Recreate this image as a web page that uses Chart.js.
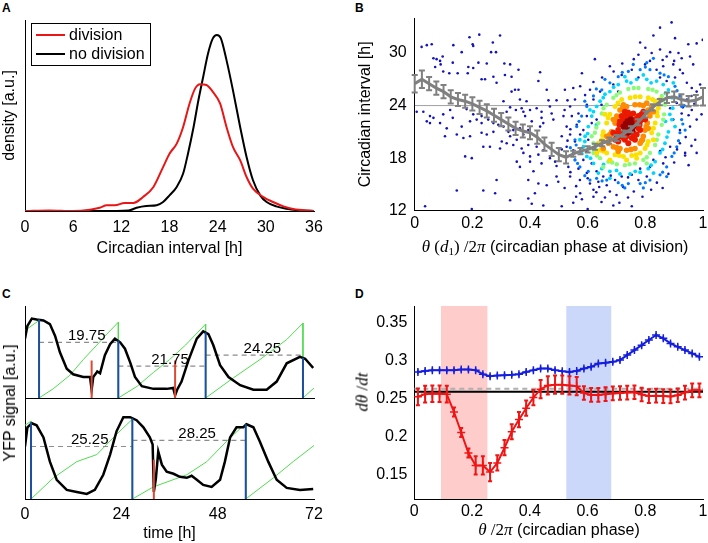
<!DOCTYPE html>
<html>
<head>
<meta charset="utf-8">
<script src="https://cdn.jsdelivr.net/npm/chart.js@4.4.1/dist/chart.umd.min.js"></script>
<style>
  body { margin: 0; background: #fff; width: 708px; height: 543px; position: relative; overflow: hidden;
         font-family: "Liberation Sans", Arial, Helvetica, sans-serif; }
  canvas { position: absolute; }
  .txt { position: absolute; font-size: 16px; line-height: 1; white-space: nowrap; color: #000;
         transform: translate(-50%, -50%); }
  .rot { transform: translate(-50%, -50%) rotate(-90deg); }
  .m { font-family: "Liberation Serif", "DejaVu Serif", serif; font-size: 17px; }
  .m sub { font-size: 11px; vertical-align: -3px; font-style: normal; }
  .tag { position: absolute; font-weight: bold; font-size: 12px; line-height: 1; }
</style>
</head>
<body>
<div class="tag" style="left:2px;top:2px">A</div>
<div class="tag" style="left:355px;top:2px">B</div>
<div class="tag" style="left:2px;top:288px">C</div>
<div class="tag" style="left:355px;top:288px">D</div>

<canvas id="chartA" style="left:0;top:0" width="354" height="270"></canvas>
<canvas id="chartB" style="left:354px;top:0" width="354" height="270"></canvas>
<canvas id="chartCtop" style="left:0;top:290px" width="354" height="112"></canvas>
<canvas id="chartCbot" style="left:0;top:390px" width="354" height="153"></canvas>
<canvas id="chartD" style="left:354px;top:290px" width="354" height="253"></canvas>

<div class="txt" style="left:555px;top:247px"><span class="m"><i>θ</i> (<i>d</i><sub>1</sub>) /2<i>π</i></span> (circadian phase at division)</div>
<div class="txt rot" style="left:10px;top:403px">YFP signal [a.u.]</div>
<div class="txt" style="left:559px;top:529px"><span class="m"><i>θ</i> /2<i>π</i></span> (circadian phase)</div>
<div class="txt rot" style="left:362px;top:392px"><span class="m"><i>dθ</i> /<i>dt</i></span></div>

<script>
// ---------- A: interval densities ----------
const divTime = [0, 3, 6, 8.1, 9.3, 10.2, 11.2, 12.4, 13.5, 14.7, 16.0, 17.2, 18.0, 18.9, 19.7, 20.5, 21.2, 21.8, 22.6, 23.4, 24.3, 25.1, 25.9, 26.8, 27.6, 28.4, 29.7, 30.9, 32.2, 33.4, 36];
const divDensity = [0, 0.003, 0, 0.007, 0.017, 0.03, 0.03, 0.042, 0.042, 0.073, 0.126, 0.23, 0.30, 0.353, 0.44, 0.563, 0.642, 0.664, 0.66, 0.624, 0.563, 0.44, 0.336, 0.266, 0.178, 0.117, 0.073, 0.047, 0.024, 0.01, 0];
const noDivTime = [0, 9.3, 12.9, 13.9, 15.1, 16.4, 17.2, 18.0, 18.9, 19.7, 20.3, 21.0, 21.6, 22.2, 22.8, 23.4, 23.9, 24.4, 25.1, 25.9, 26.8, 27.6, 28.4, 29.3, 30.1, 31.3, 32.6, 34.2, 36];
const noDivDensity = [0, 0, 0.003, 0.017, 0.026, 0.03, 0.047, 0.082, 0.126, 0.196, 0.30, 0.44, 0.58, 0.703, 0.825, 0.904, 0.921, 0.904, 0.79, 0.633, 0.44, 0.283, 0.161, 0.082, 0.047, 0.024, 0.012, 0.003, 0];
const ticksA = [0, 6, 12, 18, 24, 30, 36];

// ---------- B: interval vs phase at division ----------
const phaseB = [0, 0.025, 0.05, 0.075, 0.1, 0.125, 0.15, 0.175, 0.2, 0.225, 0.25, 0.275, 0.3, 0.325, 0.35, 0.375, 0.4, 0.425, 0.45, 0.475, 0.5, 0.525, 0.55, 0.575, 0.6, 0.625, 0.65, 0.675, 0.7, 0.725, 0.75, 0.775, 0.8, 0.825, 0.85, 0.875, 0.9, 0.925, 0.95, 0.975, 1];
const meanB = [26.5, 27.0, 26.5, 26.0, 25.6, 25.0, 24.7, 24.5, 24.2, 23.8, 23.4, 22.9, 22.4, 21.9, 21.4, 21.1, 20.9, 20.4, 19.6, 19.0, 18.4, 18.1, 18.5, 18.8, 19.0, 19.3, 19.7, 20.0, 20.3, 20.8, 21.3, 22.1, 23.0, 23.8, 24.4, 24.9, 25.0, 24.7, 24.5, 24.6, 25.0];
const errB = [1.0, 1.0, 0.75, 0.75, 0.75, 0.75, 0.75, 0.75, 0.75, 0.75, 0.75, 0.75, 0.75, 0.75, 0.75, 0.75, 0.75, 0.75, 0.75, 0.75, 0.75, 0.7, 0.35, 0.35, 0.35, 0.35, 0.35, 0.35, 0.35, 0.35, 0.35, 0.35, 0.35, 0.35, 0.35, 0.6, 0.6, 0.6, 0.6, 0.6, 1.0];
const refIntervalB = 24;
const ticksBx = [0, 0.2, 0.4, 0.6, 0.8, 1];
const ticksBy = [12, 18, 24, 30];

// scatter, grouped by local point density (outer to inner)
const cellsSparse = [
  [0.024,30.7],[0.042,30.9],[0.059,31.0],[0.134,30.9],[0.19,31.8],[0.224,32.1],[0.296,32.0],[0.271,31.2],[0.201,31.0],[0.203,30.8],[0.163,30.1],[0.265,30.1],[0.282,30.1],[0.065,29.4],[0.076,29.3],[0.088,29.1],[0.097,29.6],[0.071,28.4],[0.09,28.7],[0.132,28.9],[0.221,28.9],[0.186,28.4],[0.203,28.3],[0.25,28.8],[0.311,28.8],[0.331,28.7],[0.36,28.1],[0.435,27.8],[0.099,27.9],[0.12,27.7],[0.149,27.7],[0.184,27.7],[0.232,27.0],[0.244,27.0],[0.273,27.3],[0.284,26.6],[0.313,27.5],[0.336,27.3],[0.429,26.8],[0.458,25.8],[0.336,25.6],[0.348,25.8],[0.36,25.8],[0.365,24.7],[0.388,24.5],[0.464,24.6],[0.492,24.6],[0.308,24.5],[0.331,23.8],[0.351,23.5],[0.371,23.7],[0.007,23.3],[0.03,23.3],[0.053,22.8],[0.065,22.6],[0.099,23.0],[0.123,23.5],[0.132,22.6],[0.18,23.6],[0.203,23.0],[0.232,22.8],[0.319,23.3],[0.377,23.3],[0.383,22.8],[0.4,23.5],[0.423,23.7],[0.44,23.3],[0.469,23.9],[0.475,23.1],[0.44,22.6],[0.446,22.0],[0.435,21.6],[0.481,22.4],[0.042,22.2],[0.053,22.0],[0.088,22.0],[0.111,21.4],[0.163,21.6],[0.192,22.2],[0.215,22.4],[0.232,22.0],[0.255,22.4],[0.273,22.0],[0.29,21.8],[0.308,21.6],[0.325,21.0],[0.342,21.2],[0.365,21.4],[0.394,21.2],[0.406,22.2],[0.105,20.5],[0.146,20.7],[0.169,20.3],[0.192,20.5],[0.232,20.9],[0.25,20.7],[0.273,21.0],[0.331,20.5],[0.354,20.1],[0.377,20.7],[0.302,19.9],[0.319,19.7],[0.342,19.5],[0.371,19.1],[0.394,19.5],[0.238,19.3],[0.261,19.3],[0.296,19.1],[0.423,19.3],[0.446,18.9],[0.429,18.4],[0.4,18.2],[0.377,18.6],[0.175,18.2],[0.198,18.0],[0.354,17.6],[0.365,17.0],[0.4,17.6],[0.44,17.4],[0.469,18.0],[0.487,17.6],[0.492,17.1],[0.412,16.5],[0.394,15.5],[0.429,15.1],[0.458,14.9],[0.492,15.9],[0.498,15.3],[0.284,15.5],[0.146,14.3],[0.238,14.3],[0.279,14.0],[0.331,13.2],[0.394,13.4],[0.417,14.0],[0.406,12.8],[0.446,12.6],[0.198,12.2],[0.036,12.5],
  [0.891,33.5],[0.851,32.9],[0.828,32.0],[0.782,31.2],[0.903,31.7],[0.949,31.0],[0.978,31.1],[0.999,31.5],[0.625,29.3],[0.677,28.5],[0.776,29.8],[0.822,30.0],[0.851,30.4],[0.874,29.6],[0.886,30.1],[0.915,30.0],[0.926,29.4],[0.955,29.6],[0.799,28.7],[0.816,29.1],[0.839,28.1],[0.862,28.5],[0.897,28.7],[0.92,28.1],[0.966,28.7],[0.753,28.1],[0.718,27.5],[0.776,27.2],[0.851,27.2],[0.874,26.8],[0.903,27.2],[0.944,26.6],[0.961,26.0],[0.978,25.6],[0.521,25.8],[0.574,26.2],[0.608,25.8],[0.643,25.6],[0.689,26.4],[0.706,25.6],[0.591,25.2],[0.62,24.7],[0.556,24.7],[0.539,23.9],[0.597,24.1],[0.648,24.1],[0.516,22.8],[0.545,22.8],[0.568,23.1],[0.597,22.8],[0.527,21.6],[0.562,21.8],[0.585,21.2],[0.614,22.0],[0.631,22.4],[0.51,20.5],[0.539,20.7],[0.556,19.9],[0.574,20.7],[0.602,20.1],[0.527,19.3],[0.55,18.9],[0.574,19.1],[0.597,18.8],[0.521,18.2],[0.556,17.8],[0.585,17.8],[0.614,17.4],[0.533,17.0],[0.568,16.8],[0.597,16.3],[0.631,16.5],[0.654,15.9],[0.539,15.9],[0.573,15.5],[0.608,15.1],[0.637,15.3],[0.666,14.9],[0.695,15.5],[0.718,15.9],[0.753,16.1],[0.782,16.8],[0.816,17.0],[0.776,15.5],[0.574,14.0],[0.62,14.4],[0.677,14.2],[0.723,14.7],[0.55,12.9],[0.648,13.0],[0.689,12.6],[0.753,12.5],[0.51,12.5],[0.851,18.8],[0.886,19.3],[0.92,19.7],[0.938,18.6],[0.938,18.3],[0.973,20.1],[0.92,21.2],[0.955,21.6],[0.978,22.4],[0.897,22.4],[0.926,23.1],[0.961,23.5],[0.995,23.0],[0.886,23.7],[0.909,24.3],[0.944,24.7],[0.862,17.4],[0.828,17.8],[0.805,15.9],[0.978,18.6],
  [0.56,14.8],[0.58,13.3],[0.6,12.2],[0.62,13.6],[0.64,14.7],[0.66,13.5],[0.7,13.8],[0.71,12.9],[0.74,13.5],[0.76,14.2],[0.79,13.6],[0.82,14.4],[0.84,15.2],[0.86,14.6],[0.88,16.2],[0.9,17.5],[0.95,17.2],[0.96,19.4],[0.94,20.4],[0.95,22.9],[0.97,24.2],[0.99,26.4],[0.93,27.7],[0.9,29.1],[0.86,29.2],[0.8,30.6],[0.76,29.3],[0.72,28.8],[0.69,27.9],[0.65,27.2],[0.62,26.7],[0.58,27.7],[0.55,26.0],[0.53,24.6],[0.52,23.5],[0.54,21.3],[0.53,20.0],[0.51,19.0],[0.54,16.4],[0.52,14.6],[0.56,13.6],[0.6,15.7],[0.63,14.1],[0.68,16.0],[0.74,15.8],[0.83,16.3],[0.87,18.1],[0.91,19.0],[0.93,23.8],[0.96,25.1]
];
const cellsLightBlue = [[0.55,18.6],[0.556,20.1],[0.562,21.6],[0.579,22.8],[0.597,23.9],[0.62,25.1],[0.649,25.8],[0.677,26.6],[0.706,27.3],[0.741,27.9],[0.782,28.1],[0.816,28.1],[0.851,27.7],[0.88,27.3],[0.903,26.2],[0.92,25.1],[0.926,23.9],[0.926,22.4],[0.92,20.9],[0.909,19.3],[0.892,18.2],[0.874,17.0],[0.851,16.1],[0.816,15.5],[0.782,15.1],[0.741,15.1],[0.706,15.2],[0.666,15.5],[0.631,15.7],[0.602,16.5],[0.573,17.0],[0.556,17.8],[0.805,28.9],[0.758,28.7],[0.828,29.4],[0.938,21.2],[0.608,15.5],[0.729,14.6],[0.793,14.6],[0.874,15.9],
  [0.56,19.5],[0.57,22.2],[0.59,24.5],[0.63,25.9],[0.66,27.0],[0.72,27.8],[0.8,28.4],[0.865,27.5],[0.91,25.7],[0.935,24.0],[0.93,21.9],[0.915,20.0],[0.9,18.6],[0.86,16.4],[0.8,15.2],[0.72,14.9],[0.65,15.4],[0.59,16.0],[0.565,17.4],[0.54,19.2]];
const cellsCyan = [[0.585,19.3],[0.591,20.5],[0.602,21.6],[0.614,22.8],[0.631,23.9],[0.654,24.9],[0.677,25.6],[0.706,26.4],[0.735,26.8],[0.77,27.0],[0.805,27.0],[0.839,26.8],[0.862,26.4],[0.88,25.8],[0.892,24.9],[0.895,23.7],[0.892,22.4],[0.88,21.0],[0.868,19.7],[0.851,18.6],[0.834,17.6],[0.81,16.8],[0.782,16.4],[0.747,16.2],[0.712,16.2],[0.677,16.5],[0.649,16.8],[0.62,17.4],[0.597,18.2],[0.579,18.6],[0.573,20.1],[0.897,26.6],[0.828,16.3],[0.677,15.7],[0.637,16.3],[0.729,27.3],[0.793,27.5],[0.643,24.5],[0.608,23.5],[0.903,21.6],
  [0.6,20.8],[0.62,23.3],[0.66,25.3],[0.69,26.1],[0.75,26.6],[0.82,26.6],[0.87,25.4],[0.885,23.0],[0.875,20.4],[0.86,19.0],[0.82,17.2],[0.765,16.5],[0.7,16.6],[0.655,17.3],[0.61,18.0],[0.59,19.9],[0.63,21.8],[0.87,22.2]];
const cellsGreen = [[0.62,19.7],[0.625,20.9],[0.637,22.0],[0.649,23.1],[0.666,24.1],[0.689,24.9],[0.712,25.5],[0.741,25.9],[0.776,26.0],[0.81,25.9],[0.839,25.6],[0.857,25.1],[0.868,24.1],[0.865,23.0],[0.857,21.8],[0.845,20.7],[0.834,19.5],[0.816,18.6],[0.793,17.8],[0.764,17.4],[0.729,17.2],[0.701,17.3],[0.672,17.6],[0.643,18.0],[0.62,18.6],[0.608,19.1],[0.874,25.4],[0.654,17.0],[0.805,17.4],[0.614,20.5],
  [0.625,19.1],[0.63,21.5],[0.655,23.7],[0.7,25.2],[0.76,26.0],[0.825,25.8],[0.862,24.6],[0.862,22.4],[0.84,20.1],[0.805,18.1],[0.745,17.3],[0.685,17.5],[0.632,18.3]];
const cellsYellow = [[0.649,20.1],[0.654,21.0],[0.666,22.0],[0.677,23.0],[0.695,23.9],[0.718,24.7],[0.747,24.9],[0.782,25.0],[0.81,24.9],[0.834,24.5],[0.845,23.7],[0.842,22.8],[0.834,22.0],[0.822,20.9],[0.81,19.9],[0.799,19.1],[0.782,18.6],[0.753,18.3],[0.724,18.2],[0.695,18.4],[0.666,18.6],[0.643,18.9],[0.637,19.7],[0.66,23.0],[0.851,24.7],[0.735,17.8],[0.77,18.0],[0.677,17.8],[0.631,18.6],[0.828,20.1],
  [0.652,20.6],[0.671,22.6],[0.705,24.3],[0.765,25.0],[0.825,24.7],[0.84,23.2],[0.828,21.4],[0.806,19.5],[0.768,18.4],[0.71,18.3],[0.655,18.8]];
const cellsOrange = [[0.677,20.1],[0.683,21.0],[0.695,22.0],[0.701,22.8],[0.712,23.5],[0.735,23.9],[0.764,24.1],[0.793,24.0],[0.81,23.5],[0.816,22.8],[0.807,22.0],[0.799,21.2],[0.793,20.5],[0.782,19.7],[0.764,19.1],[0.735,18.9],[0.712,19.1],[0.689,19.3],[0.672,19.7],[0.677,20.7],[0.805,24.3],[0.822,23.8],[0.706,18.8],[0.666,20.5],[0.81,21.4],[0.787,20.0],[0.724,24.1],[0.689,22.4],[0.828,23.3],[0.654,19.1],
  [0.68,20.6],[0.697,22.4],[0.722,23.8],[0.78,24.1],[0.814,23.1],[0.803,21.6],[0.79,20.1],[0.75,19.0],[0.7,19.2],[0.67,19.9]];
const cellsRed = [[0.706,21.2],[0.712,22.2],[0.718,22.8],[0.735,23.0],[0.758,23.1],[0.776,22.8],[0.782,22.2],[0.776,21.4],[0.77,20.7],[0.753,20.3],[0.729,20.1],[0.712,20.5],[0.701,20.7],[0.724,22.4],[0.764,22.4],[0.77,21.8],[0.718,20.9],[0.735,20.5],[0.758,20.9],[0.787,23.0],[0.793,23.3],[0.695,20.1],[0.706,19.9],[0.741,19.7],[0.782,21.2],[0.764,20.1],[0.729,23.3],[0.747,22.8],[0.689,20.9],[0.799,22.4],
  [0.71,21.8],[0.73,22.7],[0.77,22.5],[0.78,21.8],[0.76,20.5],[0.725,20.3],[0.7,20.4],[0.74,23.2]];
const cellsDarkRed = [[0.735,21.8],[0.747,21.4],[0.729,21.2],[0.753,22.0],[0.741,20.9],[0.758,21.6],[0.724,21.6],[0.749,22.4],[0.738,22.2],[0.755,21.2],[0.73,21.9],[0.745,21.5]];

// ---------- C: two example traces ----------
const yfpTopT = [0, 0.6, 1.7, 2.9, 4.6, 6.2, 7.5, 8.7, 10.4, 12.0, 14.5, 16.2, 16.6, 17.0, 17.7, 18.0, 18.7, 19.9, 21.2, 22.4, 23.7, 24.9, 26.2, 27.4, 29.1, 32.0, 35.3, 36.9, 37.4, 37.9, 39.0, 40.7, 42.8, 44.4, 45.7, 46.9, 48.6, 50.7, 53.6, 56.9, 60.2, 62.7, 65.2, 68.5, 69.8, 71.8];
const yfpTopV = [0.65, 0.79, 0.87, 0.86, 0.85, 0.81, 0.68, 0.50, 0.32, 0.26, 0.23, 0.23, 0.09, 0.23, 0.27, 0.29, 0.27, 0.47, 0.59, 0.65, 0.61, 0.54, 0.39, 0.23, 0.13, 0.10, 0.10, 0.11, 0.03, 0.09, 0.18, 0.41, 0.65, 0.73, 0.70, 0.58, 0.36, 0.23, 0.14, 0.09, 0.09, 0.18, 0.38, 0.45, 0.43, 0.33];
const phaseTopT = [0, 3.5, 3.5, 7, 11.2, 14.5, 17.9, 20.4, 23.25, 23.25, 28, 32, 36, 40, 45, 45, 51.9, 58.5, 65.2, 69.25, 69.25, 72];
const phaseTopV = [0.74, 0.85, 0, 0.1, 0.25, 0.42, 0.58, 0.70, 0.83, 0, 0.13, 0.28, 0.42, 0.58, 0.81, 0, 0.22, 0.42, 0.64, 0.82, 0, 0.11];
const peaksTop = [3.5, 23.25, 45, 69.25];
const peaksTopH = [0.86, 0.63, 0.72, 0.44];
const divsTop = [16.6, 37.4];
const divsTopH = [0.41, 0.41];
const levelsTop = [0.61, 0.35, 0.47];
const intervalsTop = ['19.75', '21.75', '24.25'];

const yfpBotT = [0, 0.6, 1.7, 2.9, 4.6, 6.2, 7.9, 10.4, 12.9, 15.4, 17.4, 19.5, 21.2, 22.8, 24.5, 26.2, 27.8, 29.5, 31.1, 31.8, 32.1, 32.6, 33.2, 34.1, 35.3, 37.0, 38.6, 40.3, 41.5, 42.8, 44.4, 46.5, 48.6, 49.8, 51.1, 52.7, 54.4, 55.2, 56.9, 58.5, 60.6, 62.7, 65.2, 68.5, 71.8];
const yfpBotV = [0.52, 0.71, 0.75, 0.73, 0.61, 0.37, 0.19, 0.09, 0.07, 0.05, 0.09, 0.24, 0.44, 0.67, 0.81, 0.81, 0.78, 0.71, 0.61, 0.54, 0.07, 0.20, 0.47, 0.34, 0.27, 0.25, 0.22, 0.21, 0.23, 0.19, 0.14, 0.12, 0.19, 0.37, 0.61, 0.71, 0.71, 0.74, 0.71, 0.57, 0.37, 0.19, 0.11, 0.09, 0.10];
const phaseBotT = [0, 1.5, 1.5, 7.1, 12.9, 17.9, 22.8, 26.75, 26.75, 32, 40.3, 45.3, 50.2, 55, 55, 61.9, 66.8, 72];
const phaseBotV = [0.73, 0.77, 0, 0.21, 0.37, 0.44, 0.64, 0.79, 0, 0.12, 0.24, 0.37, 0.57, 0.75, 0, 0.21, 0.37, 0.53];
const peaksBot = [1.5, 26.75, 55];
const peaksBotH = [0.76, 0.80, 0.74];
const divsBot = [32.1];
const divsBotH = [0.39];
const levelsBot = [0.52, 0.58];
const intervalsBot = ['25.25', '28.25'];
const ticksC = [0, 24, 48, 72];

// ---------- D: phase velocity ----------
const phaseBins = [0.0125, 0.0375, 0.0625, 0.0875, 0.1125, 0.1375, 0.1625, 0.1875, 0.2125, 0.2375, 0.2625, 0.2875, 0.3125, 0.3375, 0.3625, 0.3875, 0.4125, 0.4375, 0.4625, 0.4875, 0.5125, 0.5375, 0.5625, 0.5875, 0.6125, 0.6375, 0.6625, 0.6875, 0.7125, 0.7375, 0.7625, 0.7875, 0.8125, 0.8375, 0.8625, 0.8875, 0.9125, 0.9375, 0.9625, 0.9875];
const velBlue = [0.2848, 0.2861, 0.2871, 0.2871, 0.2871, 0.2871, 0.288, 0.288, 0.2871, 0.2818, 0.2792, 0.2800, 0.2805, 0.2809, 0.2818, 0.2848, 0.2871, 0.2893, 0.2893, 0.2871, 0.2855, 0.2848, 0.2861, 0.2893, 0.2914, 0.2959, 0.2967, 0.298, 0.3003, 0.3069, 0.3135, 0.32, 0.3267, 0.3333, 0.3289, 0.3223, 0.3178, 0.3135, 0.3091, 0.3046];
const velRed = [0.252, 0.2555, 0.256, 0.256, 0.2555, 0.232, 0.205, 0.178, 0.1617, 0.1617, 0.153, 0.165, 0.185, 0.206, 0.222, 0.237, 0.251, 0.262, 0.267, 0.268, 0.268, 0.267, 0.266, 0.257, 0.2545, 0.2545, 0.2555, 0.2565, 0.257, 0.2575, 0.258, 0.255, 0.253, 0.2535, 0.253, 0.2525, 0.254, 0.2575, 0.2605, 0.2605];
const errRed = [0.011, 0.011, 0.011, 0.011, 0.011, 0.006, 0.006, 0.006, 0.012, 0.012, 0.012, 0.01, 0.01, 0.01, 0.01, 0.01, 0.01, 0.012, 0.012, 0.012, 0.012, 0.012, 0.012, 0.009, 0.009, 0.009, 0.009, 0.009, 0.009, 0.009, 0.009, 0.009, 0.009, 0.009, 0.009, 0.009, 0.009, 0.009, 0.009, 0.009];
const errBlue = [0.003, 0.003, 0.003, 0.003, 0.003, 0.003, 0.003, 0.003, 0.003, 0.003, 0.003, 0.003, 0.003, 0.003, 0.003, 0.003, 0.003, 0.003, 0.003, 0.003, 0.003, 0.003, 0.003, 0.003, 0.003, 0.003, 0.003, 0.003, 0.003, 0.003, 0.003, 0.003, 0.003, 0.003, 0.003, 0.003, 0.003, 0.003, 0.003, 0.003];
const velMean = 0.2585;
const velDashed = 0.2625;
const bandPink = [0.092, 0.254];
const bandBlue = [0.526, 0.683];
const ticksDx = [0, 0.2, 0.4, 0.6, 0.8, 1];
const ticksDy = [0.15, 0.2, 0.25, 0.3, 0.35];

// ---------- helpers ----------
Chart.defaults.font.family = '"Liberation Sans", Arial, Helvetica, sans-serif';
Chart.defaults.font.size = 16;
Chart.defaults.color = '#000';

const RED = 'rgb(232,22,22)';
const GRAY = 'rgb(128,128,128)';
const border = { display: true, color: '#000', width: 1 };
const noGrid = { display: false, drawTicks: false };

const pts = (xs, ys) => xs.map((x, i) => ({ x, y: ys[i] }));
const pairs = list => list.map(p => ({ x: p[0], y: p[1] }));
const useTicks = list => s => { s.ticks = list.map(v => ({ value: v })); };
// force the axis thickness so the plot rectangle sits where the reference has it
const fit = size => s => {
  if (s.isHorizontal()) s.height = size; else s.width = size;
  s.paddingLeft = s.paddingRight = s.paddingTop = s.paddingBottom = 0;
};
const base = pad => ({
  responsive: false, animation: false, events: [],
  layout: { autoPadding: false, padding: pad },
  elements: { point: { radius: 0 }, line: { tension: 0 } }
});
const flatTicks = pad => ({ padding: pad, autoSkip: false, maxRotation: 0, minRotation: 0, callback: v => String(v) });

// vertical markers from the axis up to a height, broken with nulls
function vlines(ts, hs) {
  const out = [];
  ts.forEach((t, i) => out.push({ x: t, y: 0 }, { x: t, y: hs[i] }, { x: t, y: null }));
  return out;
}
function spans(ts, levels) {
  const out = [];
  levels.forEach((v, i) => out.push({ x: ts[i], y: v }, { x: ts[i + 1], y: v }, { x: ts[i + 1], y: null }));
  return out;
}
const labelItems = (ts, levels, texts) => texts.map((text, i) => ({ text, x: (ts[i] + ts[i + 1]) / 2 + 2, y: levels[i] }));

const errorBars = {
  id: 'errorBars',
  afterDatasetDraw(chart, args) {
    const ds = chart.data.datasets[args.index];
    if (!ds.errors) return;
    const { ctx, scales: { x, y } } = chart;
    const cap = ds.errCap || 0;
    ctx.save();
    ctx.strokeStyle = ds.errColor || ds.borderColor;
    ctx.lineWidth = ds.errWidth || 1;
    ctx.beginPath();
    ds.data.forEach((p, i) => {
      const px = x.getPixelForValue(p.x);
      const lo = y.getPixelForValue(p.y - ds.errors[i]);
      const hi = y.getPixelForValue(p.y + ds.errors[i]);
      ctx.moveTo(px, lo); ctx.lineTo(px, hi);
      if (cap) {
        ctx.moveTo(px - cap, lo); ctx.lineTo(px + cap, lo);
        ctx.moveTo(px - cap, hi); ctx.lineTo(px + cap, hi);
      }
    });
    ctx.stroke();
    ctx.restore();
  }
};

const boxLegend = {
  id: 'boxLegend',
  afterDraw(chart) {
    const { ctx, chartArea: a } = chart;
    const x0 = a.left + 6, y0 = a.top + 3;
    ctx.save();
    ctx.strokeStyle = '#000';
    ctx.lineWidth = 1;
    ctx.strokeRect(x0 + 0.5, y0 + 0.5, 119, 42);
    ctx.font = '16px "Liberation Sans", Arial, sans-serif';
    ctx.textBaseline = 'middle';
    chart.data.datasets.forEach((ds, i) => {
      const y = y0 + 12 + i * 19;
      ctx.strokeStyle = ds.borderColor;
      ctx.lineWidth = 2;
      ctx.beginPath(); ctx.moveTo(x0 + 5, y); ctx.lineTo(x0 + 34, y); ctx.stroke();
      ctx.fillStyle = '#000';
      ctx.fillText(ds.label, x0 + 38, y + 1);
    });
    ctx.restore();
  }
};

const intervalText = {
  id: 'intervalText',
  afterDatasetsDraw(chart, args, opts) {
    if (!opts.items) return;
    const { ctx, scales: { x, y } } = chart;
    ctx.save();
    ctx.font = '15px "Liberation Sans", Arial, sans-serif';
    ctx.fillStyle = '#000';
    ctx.textAlign = 'center';
    ctx.textBaseline = 'alphabetic';
    opts.items.forEach(it => ctx.fillText(it.text, x.getPixelForValue(it.x), y.getPixelForValue(it.y) - 2));
    ctx.restore();
  }
};

// ---------- A ----------
new Chart(document.getElementById('chartA'), {
  type: 'line',
  data: { datasets: [
    { label: 'division', data: pts(divTime, divDensity), borderColor: RED, borderWidth: 2, cubicInterpolationMode: 'monotone' },
    { label: 'no division', data: pts(noDivTime, noDivDensity), borderColor: '#000', borderWidth: 2, cubicInterpolationMode: 'monotone' }
  ] },
  options: {
    ...base({ top: 20, right: 40, left: 0, bottom: 0 }),
    plugins: { legend: { display: false }, tooltip: { enabled: false } },
    scales: {
      x: { type: 'linear', min: 0, max: 36, afterBuildTicks: useTicks(ticksA), afterFit: fit(59),
           grid: noGrid, border, ticks: flatTicks(7),
           title: { display: true, text: 'Circadian interval [h]', padding: { top: 0, bottom: 12 } } },
      y: { type: 'linear', min: 0, max: 1, afterFit: fit(25), grid: noGrid, border,
           ticks: { display: false },
           title: { display: true, text: 'density [a.u.]', padding: { top: 0, bottom: 0 } } }
    }
  },
  plugins: [boxLegend]
});

// ---------- B ----------
const dots = (list, color, r, order) => ({ data: pairs(list), backgroundColor: color, pointRadius: r, borderWidth: 0, order });
new Chart(document.getElementById('chartB'), {
  type: 'scatter',
  data: { datasets: [
    { data: pts(phaseB, meanB), showLine: true, borderColor: GRAY, borderWidth: 3, pointRadius: 0,
      errors: errB, errCap: 3, errWidth: 2, order: 0 },
    dots(cellsDarkRed, 'rgb(150,0,0)', 3, 1),
    dots(cellsRed, 'rgb(235,25,0)', 3, 2),
    dots(cellsOrange, 'rgb(255,140,0)', 2.8, 3),
    dots(cellsYellow, 'rgb(250,225,0)', 2.5, 4),
    dots(cellsGreen, 'rgb(140,250,120)', 2.2, 5),
    dots(cellsCyan, 'rgb(0,215,250)', 1.9, 6),
    dots(cellsLightBlue, 'rgb(0,120,255)', 1.6, 7),
    dots(cellsSparse, 'rgb(20,20,185)', 1.3, 8),
    { data: pts([0, 1], [refIntervalB, refIntervalB]), showLine: true, borderColor: 'rgb(160,160,160)', borderWidth: 1, pointRadius: 0, order: 9 }
  ] },
  options: {
    ...base({ top: 18, right: 5, left: 0, bottom: 0 }),
    plugins: { legend: { display: false }, tooltip: { enabled: false } },
    scales: {
      x: { type: 'linear', min: 0, max: 1, afterBuildTicks: useTicks(ticksBx), afterFit: fit(59.3),
           grid: noGrid, border, ticks: flatTicks(3) },
      y: { type: 'linear', min: 12, max: 34, afterBuildTicks: useTicks(ticksBy), afterFit: fit(60.7),
           grid: noGrid, border, ticks: flatTicks(8),
           title: { display: true, text: 'Circadian interval [h]', padding: { top: 2, bottom: 0 } } }
    }
  },
  plugins: [errorBars]
});

// ---------- C ----------
function traceSets(yfpT, yfpV, phT, phV, peaks, peaksH, divs, divsH, levels) {
  return [
    { data: vlines(divs, divsH), borderColor: 'rgb(222,72,50)', borderWidth: 2, order: 0 },
    { data: vlines(peaks, peaksH), borderColor: 'rgb(30,78,160)', borderWidth: 2, order: 1 },
    { data: pts(yfpT, yfpV), borderColor: '#000', borderWidth: 2.5, order: 2 },
    { data: spans(peaks, levels), borderColor: 'rgb(140,140,140)', borderWidth: 1.2, borderDash: [5, 4], order: 3 },
    { data: pts(phT, phV), borderColor: 'rgb(80,220,80)', borderWidth: 1, order: 4 }
  ];
}
new Chart(document.getElementById('chartCtop'), {
  type: 'line',
  data: { datasets: traceSets(yfpTopT, yfpTopV, phaseTopT, phaseTopV, peaksTop, peaksTopH, divsTop, divsTopH, levelsTop) },
  options: {
    ...base({ top: 16.7, right: 40, left: 0, bottom: 0 }),
    plugins: { legend: { display: false }, tooltip: { enabled: false },
               intervalText: { items: labelItems(peaksTop, levelsTop, intervalsTop) } },
    scales: {
      x: { type: 'linear', min: 0, max: 72, afterFit: fit(4), grid: noGrid, border, ticks: { display: false } },
      y: { type: 'linear', min: 0, max: 1, afterFit: fit(25), grid: noGrid, border, ticks: { display: false } }
    }
  },
  plugins: [intervalText]
});
new Chart(document.getElementById('chartCbot'), {
  type: 'line',
  data: { datasets: traceSets(yfpBotT, yfpBotV, phaseBotT, phaseBotV, peaksBot, peaksBotH, divsBot, divsBotH, levelsBot) },
  options: {
    ...base({ top: 8, right: 40, left: 0, bottom: 0 }),
    plugins: { legend: { display: false }, tooltip: { enabled: false },
               intervalText: { items: labelItems(peaksBot, levelsBot, intervalsBot) } },
    scales: {
      x: { type: 'linear', min: 0, max: 72, afterBuildTicks: useTicks(ticksC), afterFit: fit(44),
           grid: noGrid, border, ticks: flatTicks(6),
           title: { display: true, text: 'time [h]', padding: { top: 0, bottom: 0 } } },
      y: { type: 'linear', min: 0, max: 1, afterFit: fit(25), grid: noGrid, border, ticks: { display: false } }
    }
  },
  plugins: [intervalText]
});

// ---------- D ----------
const DMIN = 0.1175, DMAX = 0.3715;
const band = (range, color) => ({ data: pts(range, [DMAX, DMAX]), fill: 'start', backgroundColor: color, borderWidth: 0, order: 9 });
new Chart(document.getElementById('chartD'), {
  type: 'line',
  data: { datasets: [
    { data: pts(phaseBins, velRed), borderColor: 'rgb(240,20,20)', borderWidth: 2, pointStyle: 'cross',
      pointRadius: 4, pointBorderWidth: 1.5, errors: errRed, errWidth: 2, errCap: 2, order: 0 },
    { data: pts(phaseBins, velBlue), borderColor: 'rgb(20,30,220)', borderWidth: 2, pointStyle: 'cross',
      pointRadius: 4, pointBorderWidth: 1.5, errors: errBlue, errWidth: 1.5, order: 1 },
    { data: pts([0, 1], [velMean, velMean]), borderColor: '#000', borderWidth: 2, order: 2 },
    { data: pts([0, 1], [velDashed, velDashed]), borderColor: 'rgb(175,175,175)', borderWidth: 2, borderDash: [5, 4], order: 3 },
    band(bandPink, 'rgb(255,204,204)'),
    band(bandBlue, 'rgb(204,216,250)')
  ] },
  options: {
    ...base({ top: 16, right: 5, left: 0, bottom: 0 }),
    plugins: { legend: { display: false }, tooltip: { enabled: false } },
    scales: {
      x: { type: 'linear', min: 0, max: 1, afterBuildTicks: useTicks(ticksDx), afterFit: fit(44),
           grid: noGrid, border, ticks: flatTicks(3) },
      y: { type: 'linear', min: DMIN, max: DMAX, afterBuildTicks: useTicks(ticksDy), afterFit: fit(60.3),
           grid: noGrid, border, ticks: flatTicks(7) }
    }
  },
  plugins: [errorBars]
});
</script>
</body>
</html>
